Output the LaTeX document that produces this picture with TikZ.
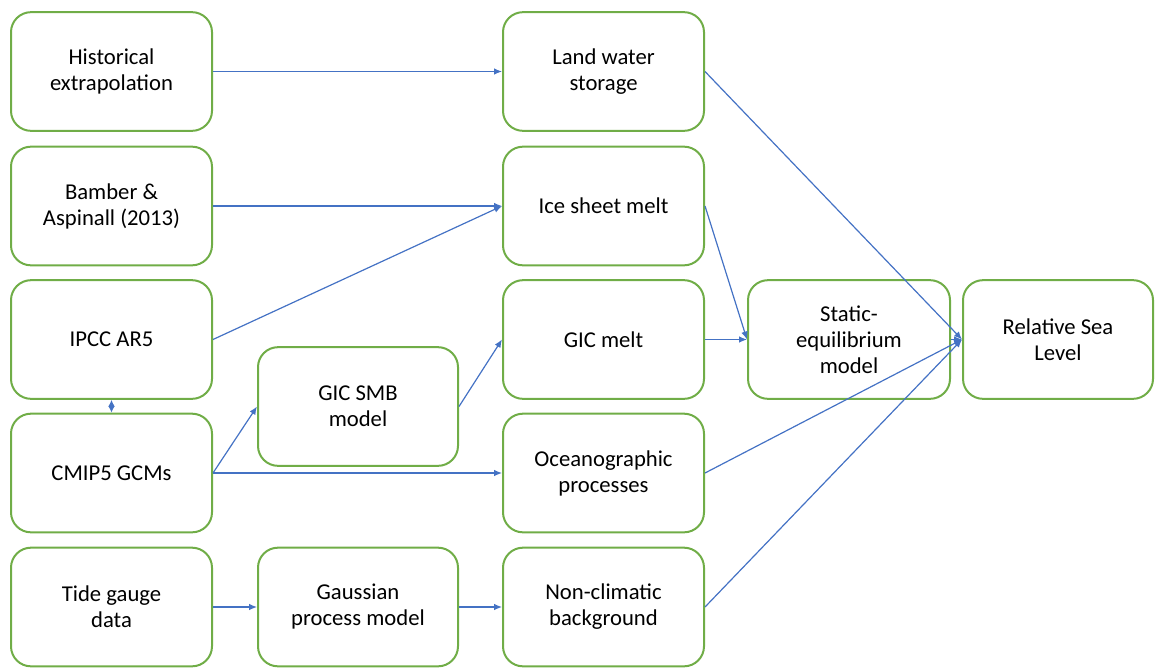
\documentclass[tikz,border=0pt]{standalone}
\usepackage{fontspec}
\setmainfont{Carlito}
\usetikzlibrary{arrows.meta}

\definecolor{boxgreen}{HTML}{70AD47}
\definecolor{linkblue}{HTML}{4472C4}

\begin{document}
\begin{tikzpicture}[
x=0.75pt, y=-0.75pt,
every node/.style={font=\fontsize{17}{19.5}\selectfont, align=center},
box/.style={draw=boxgreen, line width=1.5pt, rounded corners=15pt, rectangle, minimum width=150.75pt, minimum height=89pt, inner sep=0pt},
link/.style={draw=linkblue, line width=0.9pt, -{Latex[length=6pt,width=5pt]}}
]

\useasboundingbox (0,0) rectangle (1155,667);

\path 
(111.5, 71.5) node[box] (hist) {Historical\\extrapolation}
(111.5, 206) node[box] (bamber) {Bamber \&\\Aspinall (2013)}
(111.5, 339.5) node[box] (ipcc) {IPCC AR5}
(111.5, 473) node[box] (cmip) {CMIP5 GCMs}
(111.5, 607) node[box] (tide) {Tide gauge\\data}

(358, 406.5) node[box, minimum width=150pt] (smb) {GIC SMB\\model}
(358, 607) node[box, minimum width=150pt] (gauss) {Gaussian\\process model}

(603.5, 71.5) node[box] (land) {Land water\\storage}
(603.5, 206) node[box] (ice) {Ice sheet melt}
(603.5, 339.5) node[box] (gic) {GIC melt}
(603.5, 473) node[box] (ocean) {Oceanographic\\processes}
(603.5, 607) node[box] (nonclim) {Non-climatic\\background}

(849, 339.5) node[box, minimum width=151.5pt] (static) {Static-\\equilibrium\\model}
(1058, 339.5) node[box, minimum width=142.5pt] (rsl) {Relative Sea\\Level}
;

\draw[link] (hist) -- (land);
\draw[link] (bamber) -- (ice);
\draw[link] (ipcc.east) -- (ice.west);
\draw[link, {Latex[length=5pt,width=5pt]}-{Latex[length=5pt,width=5pt]}] (ipcc) -- (cmip);
\draw[link] (cmip.east) -- (smb.west);
\draw[link] (cmip.east) -- (ocean.west);
\draw[link] (smb.east) -- (gic.west);
\draw[link] (tide) -- (gauss);
\draw[link] (gauss) -- (nonclim);

\draw[link] (ice.east) -- (static.west);
\draw[link] (gic) -- (static);

\foreach \src in {land, static, ocean, nonclim}
    \draw[link] (\src.east) -- (rsl.west);

\end{tikzpicture}
\end{document}
